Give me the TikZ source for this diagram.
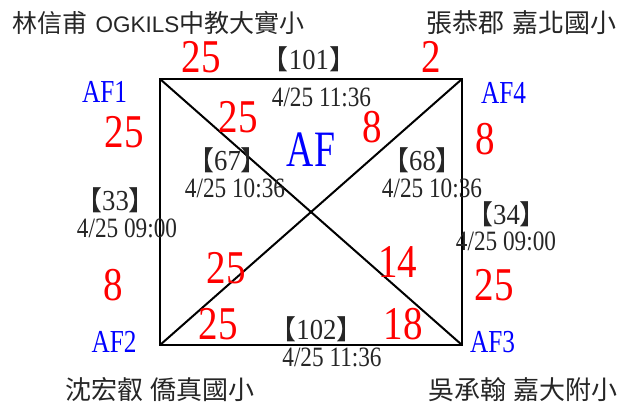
\documentclass[tikz,border=0pt]{standalone}
\usepackage{fontspec}
\setmainfont{Liberation Serif}
\newfontfamily\numfont[FakeStretch=0.83]{Liberation Serif}
\newfontfamily\afont[FakeStretch=0.79]{Liberation Serif}
\newfontfamily\bigafont[FakeStretch=0.74]{Liberation Serif}
\newfontfamily\timefont[FakeStretch=0.83]{Liberation Serif}
\newfontfamily\idxfont[FakeStretch=0.92]{Liberation Serif}
\newfontfamily\cjk{Noto Sans CJK TC}
\newfontfamily\sansfnt{Liberation Sans}
\newcommand{\brk}[1]{{\cjk\fontsize{27}{27}\selectfont 【}#1{\cjk\fontsize{27}{27}\selectfont 】}}
\begin{document}
\begin{tikzpicture}[x=1pt,y=-1pt,
  every node/.style={inner sep=0pt, outer sep=0pt},
  rednum/.style={text=red, font=\numfont\fontsize{47}{47}\selectfont, anchor=base},
  aflabel/.style={text=blue, font=\afont\fontsize{32}{32}\selectfont, anchor=base},
  biglabel/.style={text=blue, font=\bigafont\fontsize{51}{51}\selectfont, anchor=base},
  timelabel/.style={text=black!85, font=\timefont\fontsize{28}{28}\selectfont, anchor=base},
  idxlabel/.style={text=black!85, font=\idxfont\fontsize{29}{29}\selectfont, anchor=base},
  namelabel/.style={text=black!85, font=\cjk\fontsize{26}{26}\selectfont, anchor=center},
  edge/.style={line width=2pt, line cap=round}
]
\useasboundingbox (0,0) rectangle (636,403);
\fill[white] (0,0) rectangle (636,403);
% corners
\coordinate (C1) at (160,79);
\coordinate (C4) at (462,79);
\coordinate (C2) at (160,345);
\coordinate (C3) at (462,345);
\draw[edge] (C1) -- (C4) -- (C3) -- (C2) -- cycle;
\draw[edge] (C1) -- (C3);
\draw[edge] (C2) -- (C4);
% names
\node[namelabel, font=\cjk\fontsize{25}{25}\selectfont] (n1) at (158.5,23) {林信甫\hspace{8pt}{\sansfnt\fontsize{22.5}{22.5}\selectfont OGKILS}中教大實小};
\node[namelabel] (n4) at (521.5,23) {張恭郡\hspace{8pt}嘉北國小};
\node[namelabel] (n2) at (160,390) {沈宏叡\hspace{8pt}僑真國小};
\node[namelabel] (n3) at (523,390) {吳承翰\hspace{8pt}嘉大附小};
% corner labels
\node[aflabel] (af1) at (104.5,103) {AF1};
\node[aflabel] (af4) at (503.5,104) {AF4};
\node[aflabel] (af2) at (114,352) {AF2};
\node[aflabel] (af3) at (492.5,352) {AF3};
\node[biglabel] (af) at (311,167) {AF};
% red numbers
\node[rednum] (r1) at (201,73) {25};
\node[rednum] (r2) at (431,73) {2};
\node[rednum] (r3) at (124,148) {25};
\node[rednum] (r4) at (485,155) {8};
\node[rednum] (r5) at (238,133) {25};
\node[rednum] (r6) at (372,143) {8};
\node[rednum] (r7) at (226.5,283) {25};
\node[rednum] (r8) at (397.5,277) {14};
\node[rednum] (r9) at (113.5,300) {8};
\node[rednum] (r10) at (494,300) {25};
\node[rednum] (r11) at (218.5,339) {25};
\node[rednum] (r12) at (403,339) {18};
% match indices and times
\node[idxlabel] (i101) at (309,70) {\brk{101}};
\node[timelabel] (t101) at (321.5,107) {4/25 11:36};
\node[idxlabel] (i67) at (227.5,171) {\brk{67}};
\node[timelabel] (t67) at (235,197) {4/25 10:36};
\node[idxlabel] (i68) at (422.5,171) {\brk{68}};
\node[timelabel] (t68) at (432,197) {4/25 10:36};
\node[idxlabel] (i33) at (115.5,211) {\brk{33}};
\node[timelabel] (t33) at (127,237) {4/25 09:00};
\node[idxlabel] (i34) at (506.5,224) {\brk{34}};
\node[timelabel] (t34) at (506,250) {4/25 09:00};
\node[idxlabel] (i102) at (316.5,339) {\brk{102}};
\node[timelabel] (t102) at (332,366) {4/25 11:36};
\end{tikzpicture}
\end{document}
